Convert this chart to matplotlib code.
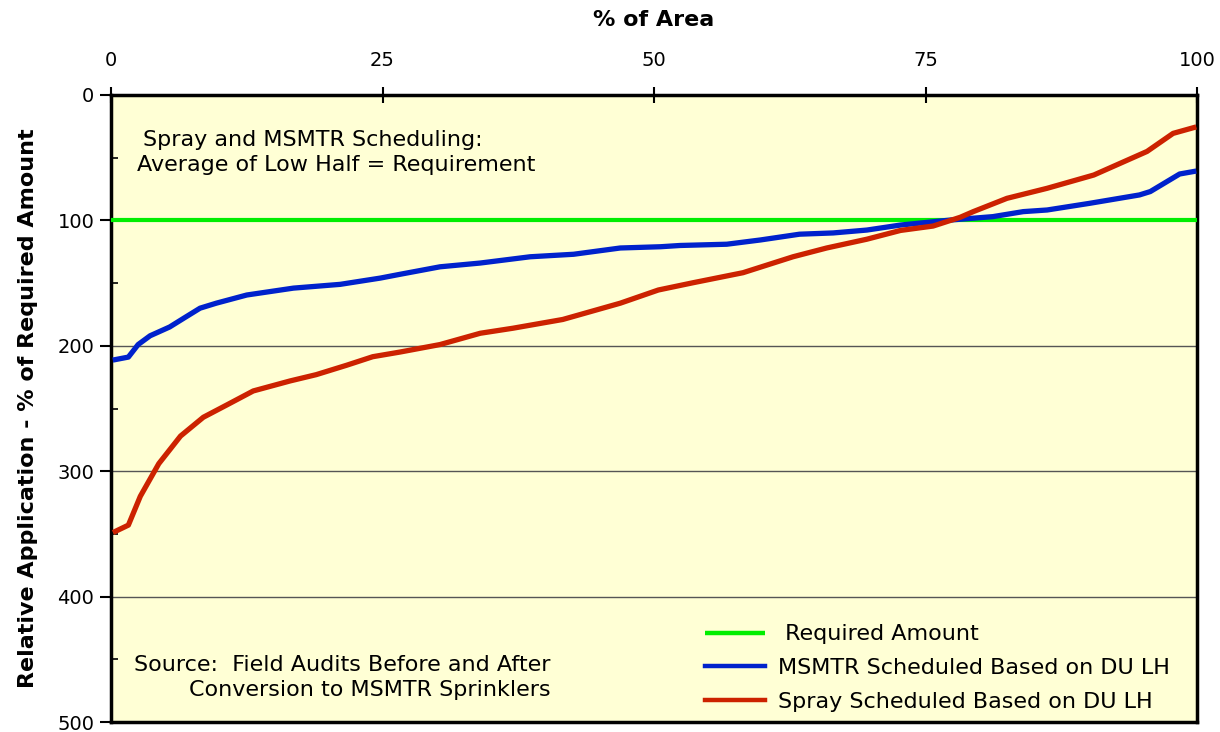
import matplotlib
matplotlib.use("Agg")
import matplotlib.pyplot as plt
from matplotlib.ticker import MultipleLocator

# Data
area_msmtr = [0.4, 1.6, 2.5, 3.6, 5.4, 6.7, 8.2, 9.7, 12.5, 16.8, 21.1, 24.8, 26.6, 30.3, 34.0,
              38.6, 42.6, 46.9, 50.6, 52.4, 56.7, 59.8, 63.4, 66.5, 69.6, 72.7, 77.3, 81.2,
              84.0, 86.2, 90.1, 94.7, 95.7, 98.4, 99.7]
msmtr = [211, 209, 199, 192, 185, 178, 170, 166, 159.5, 154, 151, 146, 143, 137, 134,
         129, 127, 122, 121, 120, 119, 115.6, 111, 110, 107.7, 103.7, 99.7, 97,
         93, 91.7, 86.4, 79.7, 77, 63, 61]

area_spray = [0.4, 1.6, 2.7, 4.4, 6.4, 8.5, 10.7, 13.1, 16.5, 18.9, 21.7, 24.1, 26.6, 30.3,
              34.0, 37.0, 41.6, 46.9, 50.4, 53.6, 58.2, 62.8, 65.9, 69.6, 72.7, 75.7, 78.2,
              79.4, 82.5, 86.2, 90.5, 95.4, 97.8, 99.7]
spray = [348, 343, 320, 294, 272, 257, 247, 236, 228, 223, 215.5, 208.7, 205, 199,
         190, 186, 179, 166, 155.5, 149.7, 141.7, 129, 122, 115, 108, 104.5, 97.5,
         93, 82.4, 74.4, 63.8, 45, 30.6, 26]

required_x = [0, 100]
required = [100, 100]

x_ticks = [0, 25, 50, 75, 100]
y_ticks = [0, 100, 200, 300, 400, 500]

plt.rcParams['font.family'] = ['DejaVu Sans']

fig = plt.figure(figsize=(12.2, 7.32), dpi=100)
ax = fig.add_axes([111/1220, 1 - 722/732, (1197-111)/1220, (722-95)/732])
ax.set_facecolor('#FFFFD5')

ax.set_xlim(0, 100)
ax.set_ylim(500, 0)

for y in [200, 300, 400]:
    ax.axhline(y, color='#555555', lw=1.0, zorder=1)

ax.plot(required_x, required, color='#00EE00', lw=3.0, label=' Required Amount', zorder=3, solid_capstyle='butt')
ax.plot(area_msmtr, msmtr, color='#0022CC', lw=3.8, label='MSMTR Scheduled Based on DU LH', zorder=4)
ax.plot(area_spray, spray, color='#CC2200', lw=3.8, label='Spray Scheduled Based on DU LH', zorder=5)

ax.xaxis.tick_top()
ax.xaxis.set_label_position('top')
ax.set_xticks(x_ticks)
ax.set_xticklabels([str(v) for v in x_ticks])
ax.set_yticks(y_ticks)
ax.set_yticklabels([str(v) for v in y_ticks])
ax.yaxis.set_minor_locator(MultipleLocator(50))
ax.tick_params(axis='x', which='major', direction='inout', length=12, width=1.5, labelsize=14, pad=12)
ax.tick_params(axis='y', which='major', direction='out', length=8, width=1.5, labelsize=14, pad=4)
ax.tick_params(axis='y', which='minor', direction='in', length=5, width=1.2)

for s in ax.spines.values():
    s.set_linewidth(2.5)
    s.set_color('black')

ax.set_xlabel('% of Area', fontsize=16, fontweight='bold', labelpad=18)
ax.set_ylabel('Relative Application - % of Required Amount', fontsize=16, fontweight='bold', labelpad=14)

fig.text(313/1220, 1 - 140/732, 'Spray and MSMTR Scheduling:',
         fontsize=16, ha='center', va='center')
fig.text(336/1220, 1 - 165/732, 'Average of Low Half = Requirement',
         fontsize=16, ha='center', va='center')
fig.text(551/1220, 1 - 665/732, 'Source:  Field Audits Before and After',
         fontsize=16, ha='right', va='center')
fig.text(551/1220, 1 - 690/732, 'Conversion to MSMTR Sprinklers',
         fontsize=16, ha='right', va='center')

leg = ax.legend(loc='lower left', bbox_to_anchor=(705/1220, 1 - 712/732),
                bbox_transform=fig.transFigure, frameon=False,
                fontsize=16, handlelength=2.7, handletextpad=0.6, labelspacing=0.62,
                borderaxespad=0, borderpad=0)
for h in leg.get_lines():
    h.set_linewidth(3.2)

fig.savefig('out.png', dpi=100, facecolor='white')
